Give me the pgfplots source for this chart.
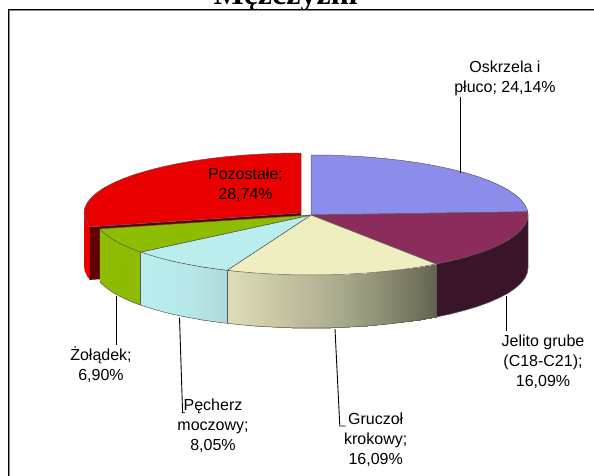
\documentclass[border=0pt]{standalone}
\usepackage{pgfplots}
\pgfplotsset{compat=1.18}
\usepackage{fontspec}
\setmainfont{Liberation Sans}
\newfontfamily\titlefont{Liberation Serif}
\tikzset{lbl/.style={font=\fontsize{16}{20}\selectfont,align=center,inner sep=0pt,text=black}}
\definecolor{blueT}{HTML}{8C8CEB}
\definecolor{maroonT}{HTML}{8B2C5C}
\definecolor{maroonW}{HTML}{3A1428}
\definecolor{creamT}{HTML}{EEEEBE}
\definecolor{lblueT}{HTML}{BAEDEE}
\definecolor{greenT}{HTML}{8DBC00}
\definecolor{redT}{HTML}{EB0000}
\definecolor{redC}{HTML}{5E0000}
\definecolor{edge}{HTML}{5A5A5A}
\definecolor{frameG}{HTML}{8A8A8A}
\begin{document}
\begin{tikzpicture}[x=1pt,y=1pt]
\clip (0,0) rectangle (594,476);
\node[anchor=base,inner sep=0pt] at (285.5,471) {\titlefont\bfseries\fontsize{32}{34}\selectfont Mężczyźni};
\begin{axis}[at={(0,0)},anchor=south west,scale only axis,width=594pt,height=476pt,
  axis lines=none,xmin=0,xmax=594,ymin=0,ymax=476,y dir=reverse,enlargelimits=false,
  no markers,every axis plot/.append style={line join=round,forget plot}]
% chart area and frame
\addplot[fill=white,draw=none] coordinates {(8,9)(594,9)(594,476)(8,476)} --cycle;
\addplot[frameG,line width=1pt] coordinates {(9.8,476)(9.8,10.6)(594,10.6)};
\addplot[black,line width=1.1pt] coordinates {(8.6,476)(8.6,9.5)(594,9.5)};
% exploded red slice: wall and cut face
\addplot[fill=redT,draw=none] coordinates {(89.9,226.9)(87.3,223.4)(84.8,218.2)(84,213)(84,266)(84.8,271.2)(87.3,276.4)(89.9,279.9)} --cycle;
\addplot[fill=redC,draw=none] coordinates {(89.9,226.9)(301,213)(301,266)(89.9,279.9)} --cycle;
% red top
\addplot[fill=redT,draw=edge,line width=0.5pt] coordinates {(301,213)(89.9,226.9)(87.3,223.4)(84.8,218.2)(84,213)(84.8,207.8)(87.3,202.6)(91.4,197.5)(97.1,192.5)(104.3,187.6)(113.1,183)(123.2,178.6)(134.8,174.4)(147.6,170.6)(161.5,167)(176.5,163.8)(192.5,161)(209.3,158.6)(226.8,156.6)(244.8,155)(263.3,153.9)(282.1,153.2)(301,153)} --cycle;
% maroon wall
\addplot[fill=maroonW,draw=none] coordinates {(527.7,211.8)(528,215)(527.2,220.2)(524.7,225.4)(520.6,230.5)(514.9,235.5)(507.7,240.4)(498.9,245)(488.8,249.4)(477.2,253.6)(464.4,257.4)(450.5,261)(436.1,264)(436.1,317)(450.5,314)(464.4,310.4)(477.2,306.6)(488.8,302.4)(498.9,298)(507.7,293.4)(514.9,288.5)(520.6,283.5)(524.7,278.4)(527.2,273.2)(528,268)} --cycle;
% cream wall, light to dark, as quads shaded along x
\addplot[patch,patch type=rectangle,shader=interp,point meta=x,point meta rel=per plot,
  colormap={creamwall}{rgb255=(221,221,184) rgb255=(198,198,164) rgb255=(175,175,145) rgb255=(141,141,115) rgb255=(99,99,80)}]
 coordinates {
 (227.1,270.3)(236.8,271.4)(236.8,324.4)(227.1,323.3)
 (236.8,271.4)(254.8,273)(254.8,326)(236.8,324.4)
 (254.8,273)(273.3,274.1)(273.3,327.1)(254.8,326)
 (273.3,274.1)(292.1,274.8)(292.1,327.8)(273.3,327.1)
 (292.1,274.8)(311,275)(311,328)(292.1,327.8)
 (311,275)(329.9,274.8)(329.9,327.8)(311,328)
 (329.9,274.8)(348.7,274.1)(348.7,327.1)(329.9,327.8)
 (348.7,274.1)(367.2,273)(367.2,326)(348.7,327.1)
 (367.2,273)(385.2,271.4)(385.2,324.4)(367.2,326)
 (385.2,271.4)(402.7,269.4)(402.7,322.4)(385.2,324.4)
 (402.7,269.4)(419.5,267)(419.5,320)(402.7,322.4)
 (419.5,267)(436.1,264)(436.1,317)(419.5,320)};
% light blue wall
\addplot[patch,patch type=rectangle,shader=interp,point meta=x,point meta rel=per plot,
  colormap={lbluewall}{rgb255=(186,237,238) rgb255=(184,233,234) rgb255=(175,218,219)}]
 coordinates {
 (140.6,252.1)(157.6,257.4)(157.6,310.4)(140.6,305.1)
 (157.6,257.4)(171.5,261)(171.5,314)(157.6,310.4)
 (171.5,261)(186.5,264.1)(186.5,317.1)(171.5,314)
 (186.5,264.1)(202.5,267)(202.5,320)(186.5,317.1)
 (202.5,267)(219.3,269.4)(219.3,322.4)(202.5,320)
 (219.3,269.4)(227.1,270.3)(227.1,323.3)(219.3,322.4)};
% green wall
\addplot[fill=greenT,draw=none] coordinates {(99.9,228.9)(101.4,230.5)(107.1,235.5)(114.3,240.4)(123.1,245)(133.2,249.4)(140.6,252.1)(140.6,305.1)(133.2,302.4)(123.1,298)(114.3,293.4)(107.1,288.5)(101.4,283.5)(99.9,281.9)} --cycle;
% wall edges
\addplot[edge,line width=0.5pt] coordinates {(99.9,281.9)(101.4,283.5)(107.1,288.5)(114.3,293.4)(123.1,298)(133.2,302.4)(140.6,305.1)(157.6,310.4)(171.5,314)(186.5,317.1)(202.5,320)(219.3,322.4)(227.1,323.3)(236.8,324.4)(254.8,326)(273.3,327.1)(292.1,327.8)(311,328)(329.9,327.8)(348.7,327.1)(367.2,326)(385.2,324.4)(402.7,322.4)(419.5,320)(436.1,317)(450.5,314)(464.4,310.4)(477.2,306.6)(488.8,302.4)(498.9,298)(507.7,293.4)(514.9,288.5)(520.6,283.5)(524.7,278.4)(527.2,273.2)(528,268)(528,215)};
\addplot[edge,line width=0.5pt] coordinates {(140.6,252.1)(140.6,305.1)};
\addplot[edge,line width=0.5pt] coordinates {(227.1,270.3)(227.1,323.3)};
\addplot[edge,line width=0.5pt] coordinates {(436.1,264)(436.1,317)};
% top faces
\addplot[fill=blueT,draw=edge,line width=0.5pt] coordinates {(311,215)(311,155)(329.9,155.2)(348.7,155.9)(367.2,157)(385.2,158.6)(402.7,160.6)(419.5,163)(435.5,165.8)(450.5,169)(464.4,172.6)(477.2,176.4)(488.8,180.6)(498.9,185)(507.7,189.6)(514.9,194.5)(520.6,199.5)(524.7,204.6)(527.2,209.8)(527.7,211.8)} --cycle;
\addplot[fill=maroonT,draw=edge,line width=0.5pt] coordinates {(311,215)(527.7,211.8)(528,215)(527.2,220.2)(524.7,225.4)(520.6,230.5)(514.9,235.5)(507.7,240.4)(498.9,245)(488.8,249.4)(477.2,253.6)(464.4,257.4)(450.5,261)(436.1,264)} --cycle;
\addplot[fill=creamT,draw=edge,line width=0.5pt] coordinates {(311,215)(436.1,264)(419.5,267)(402.7,269.4)(385.2,271.4)(367.2,273)(348.7,274.1)(329.9,274.8)(311,275)(292.1,274.8)(273.3,274.1)(254.8,273)(236.8,271.4)(227.1,270.3)} --cycle;
\addplot[fill=lblueT,draw=edge,line width=0.5pt] coordinates {(311,215)(227.1,270.3)(219.3,269.4)(202.5,267)(186.5,264.1)(171.5,261)(157.6,257.4)(140.6,252.1)} --cycle;
\addplot[fill=greenT,draw=edge,line width=0.5pt] coordinates {(311,215)(140.6,252.1)(133.2,249.4)(123.1,245)(114.3,240.4)(107.1,235.5)(101.4,230.5)(99.9,228.9)} --cycle;
% leader lines
\addplot[black,line width=0.9pt] coordinates {(460,97)(460,172.7)};
\addplot[black,line width=0.9pt] coordinates {(506,296)(506,331)};
\addplot[black,line width=0.9pt] coordinates {(335,329)(339.8,426)(345.5,426)};
\addplot[black,line width=0.9pt] coordinates {(179.5,317.7)(182.6,412.7)(185,412.7)};
\addplot[black,line width=0.9pt] coordinates {(116,296)(116,345)};
% labels
\node[lbl] at (axis cs:505,78) {Oskrzela i\\płuco; 24,14\%};
\node[lbl] at (axis cs:245.5,185) {Pozostałe;\\28,74\%};
\node[lbl] at (axis cs:543,362) {Jelito grube\\(C18-C21);\\16,09\%};
\node[lbl] at (axis cs:375.7,440) {Gruczoł\\krokowy;\\16,09\%};
\node[lbl] at (axis cs:213,426) {Pęcherz\\moczowy;\\8,05\%};
\node[lbl] at (axis cs:101,365) {Żołądek;\\6,90\%};
\end{axis}
\end{tikzpicture}
\end{document}
